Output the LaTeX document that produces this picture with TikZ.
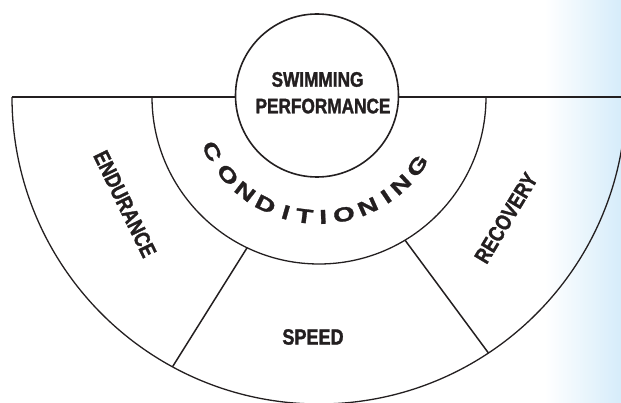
\documentclass[tikz,border=0pt]{standalone}
\usepackage{fontspec}
\setmainfont{Liberation Sans}
\newfontfamily\narrowsans[FakeStretch=0.82, FakeBold=1.5]{Liberation Sans Bold}
\newfontfamily\widesans[FakeStretch=1.4, FakeBold=1.5]{Liberation Sans Bold}
\definecolor{tinta}{RGB}{35,31,32}
\definecolor{celeste}{RGB}{214,236,250}
\begin{document}
\begin{tikzpicture}[
    x=1pt,
    y=1pt,
    linea/.style={draw=tinta, line width=1.3pt},
    rotulo/.style={font=\narrowsans\fontsize{21}{25}\selectfont, text=tinta, inner sep=0pt},
    sector/.style={rotulo, font=\narrowsans\fontsize{22}{26}\selectfont},
    letra/.style={font=\widesans\fontsize{20}{24}\selectfont, text=tinta, inner sep=0pt}
]
\useasboundingbox (0,0) rectangle (621,402);
\clip (0,0) rectangle (621,402);

% light blue edge
\shade[left color=white, right color=celeste] (545,0) rectangle (621,402);

\coordinate (centro) at (319,305);
\coordinate (oeste) at ([shift={(180:307)}]centro);
\coordinate (este) at (621,305);

% rings
\draw[linea] (oeste) arc[start angle=180, end angle=360, radius=307];
\draw[linea] ([shift={(180:167)}]centro) arc[start angle=180, end angle=360, radius=167];

% spokes
\coordinate (izqA) at ([shift={(244.5:167)}]centro);
\coordinate (izqB) at ([shift={(241.5:307)}]centro);
\coordinate (derA) at ([shift={(301:167)}]centro);
\coordinate (derB) at ([shift={(303.5:307)}]centro);
\draw[linea, line width=1.5pt] (izqA) -- (izqB);
\draw[linea, line width=1.5pt] (derA) -- (derB);

% base line and core
\draw[linea, line width=1.8pt] (oeste) -- (este);
\node[circle, draw=tinta, line width=1.6pt, fill=white, minimum size=163pt, inner sep=0pt] (nucleo) at (317,306.5) {};

\node[rotulo, anchor=base] (nado) at (317.5,315.3) {SWIMMING};
\node[rotulo, anchor=base] (rendimiento) at (323,288.7) {PERFORMANCE};
\node[sector] (velocidad) at (313,65) {SPEED};
\node[sector, rotate=-64] (resistencia) at (125,198) {ENDURANCE};
\node[sector, rotate=59] (recuperacion) at (506,184) {RECOVERY};

% curved word
\foreach \ch/\ang [count=\i] in {C/207, O/220.5, N/232, D/243.5, I/254, T/263,
    I/272, O/282, N/294, I/304, N/313, G/325}
{
    \node[letra, rotate=\ang+90] (letra\i) at ([shift={(\ang:120)}]centro) {\ch};
}

\end{tikzpicture}
\end{document}
